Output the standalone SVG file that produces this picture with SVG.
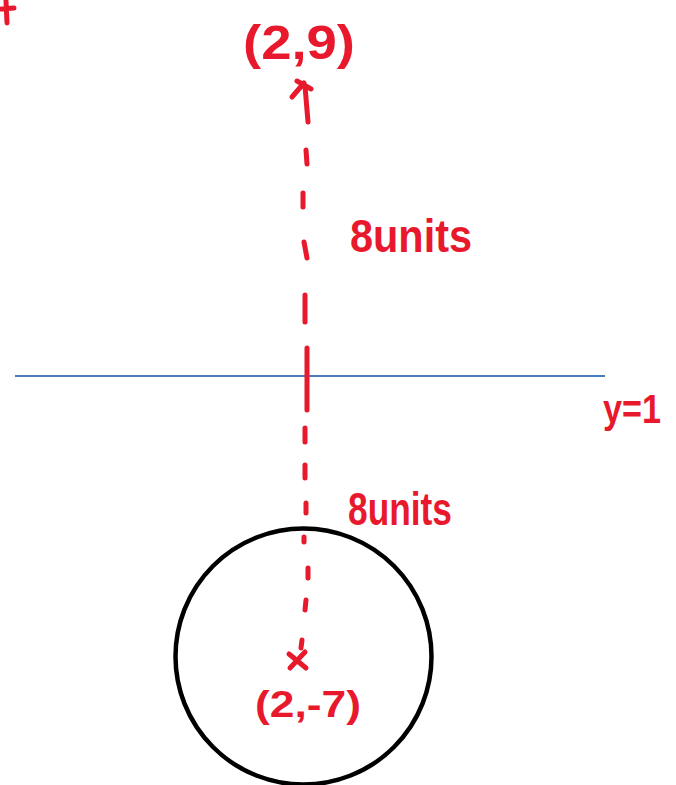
<svg xmlns="http://www.w3.org/2000/svg" width="676" height="785" viewBox="0 0 676 785">
  <style>
    .red { fill: none; stroke: #E8192C; stroke-width: 5; stroke-linecap: round; stroke-linejoin: round; }
    .lbl { fill: #E8192C; font-family: "Liberation Sans", Arial, sans-serif; font-weight: bold; }
  </style>
  <rect width="676" height="785" fill="#ffffff"/>
  <g id="corner-mark">
    <path class="red" d="M6,1 L7,23 M1,9 L14,8"/>
  </g>
  <g id="line-y1">
    <line x1="15" y1="376" x2="605" y2="376" stroke="#4A7EBB" stroke-width="2"/>
    <text class="lbl" x="603" y="423" font-size="40" textLength="58" lengthAdjust="spacingAndGlyphs">y=1</text>
  </g>
  <g id="circle">
    <circle cx="303.5" cy="656.5" r="128" fill="none" stroke="#000000" stroke-width="4.5"/>
  </g>
  <g id="connectors">
    <path class="red" d="M306,150 L307,164 M303,193 L303,207 M304,242 L307,258 M305,295 L305,322 M307,348 L307,410 M305,428 L305,442 M305,465 L305,478 M306,503 L306,513 M304,537 L304,542 M308,568 L308,578 M306,600 L305,610 M302,640 L301,648"/>
  </g>
  <g id="point-top">
    <path class="red" d="M292,97 L304,83 M297,81 L311,89 M305,86 L308,122"/>
    <text class="lbl" x="243" y="59" font-size="48" textLength="112" lengthAdjust="spacingAndGlyphs">(2,9)</text>
  </g>
  <g id="point-bottom">
    <path class="red" d="M289,654 L306,668 M305,652 L290,668"/>
    <text class="lbl" x="255" y="717" font-size="36" textLength="106" lengthAdjust="spacingAndGlyphs">(2,-7)</text>
  </g>
  <g id="label-upper">
    <text class="lbl" x="350" y="252" font-size="47" textLength="122" lengthAdjust="spacingAndGlyphs">8units</text>
  </g>
  <g id="label-lower">
    <text class="lbl" x="348" y="525" font-size="47" textLength="104" lengthAdjust="spacingAndGlyphs">8units</text>
  </g>
</svg>
